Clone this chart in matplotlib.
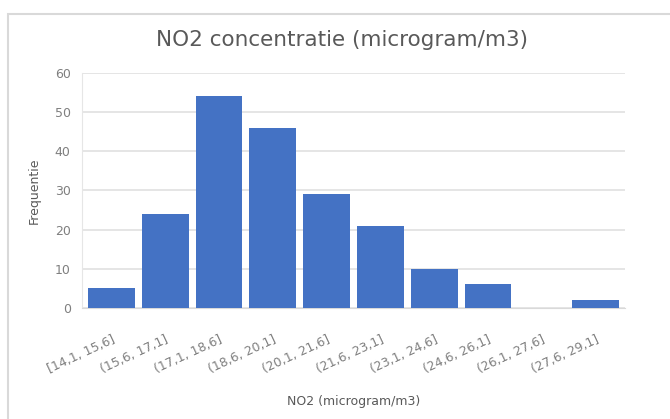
import matplotlib.pyplot as plt
from matplotlib.patches import Rectangle

bins = ['[14,1, 15,6]', '(15,6, 17,1]', '(17,1, 18,6]', '(18,6, 20,1]', '(20,1, 21,6]',
        '(21,6, 23,1]', '(23,1, 24,6]', '(24,6, 26,1]', '(26,1, 27,6]', '(27,6, 29,1]']
freq = [5, 24, 54, 46, 29, 21, 10, 6, 0, 2]

fig = plt.figure(figsize=(6.7, 4.19), dpi=100)
ax = fig.add_axes([0.122, 0.265, 0.811, 0.561])

# chart border like Excel (only top and left visible in the crop)
fig.patches.append(Rectangle((0.012, -0.1), 1.2, 1.067, transform=fig.transFigure,
                             fill=False, edgecolor='#d9d9d9', linewidth=1.5))

x = list(range(len(bins)))
ax.bar(x, freq, width=0.87, color='#4472C4', zorder=3)

ax.set_ylim(0, 60)
ax.set_yticks(range(0, 61, 10))
ax.set_xlim(-0.55, len(bins) - 0.45)
ax.set_xticks(x)
ax.set_xticklabels(bins, rotation=25, ha='right', rotation_mode='anchor', fontsize=9, color='#7f7f7f')
ax.tick_params(axis='y', labelsize=9, labelcolor='#7f7f7f', length=0, pad=8)
ax.tick_params(axis='x', length=0, pad=18)
ax.grid(axis='y', color='#e0e0e0', linewidth=1.2, zorder=0)
for s in ['top', 'right']:
    ax.spines[s].set_visible(False)
ax.spines['left'].set_color('#e6e6e6')
ax.spines['bottom'].set_color('#d9d9d9')

fig.text(0.51, 0.905, 'NO2 concentratie (microgram/m3)', fontsize=15.5, color='#595959',
         ha='center', va='center')
ax.set_ylabel('Frequentie', fontsize=9, color='#595959', labelpad=10)
ax.set_xlabel('NO2 (microgram/m3)', fontsize=9, color='#595959', labelpad=14)

fig.savefig('out.png', dpi=100)
